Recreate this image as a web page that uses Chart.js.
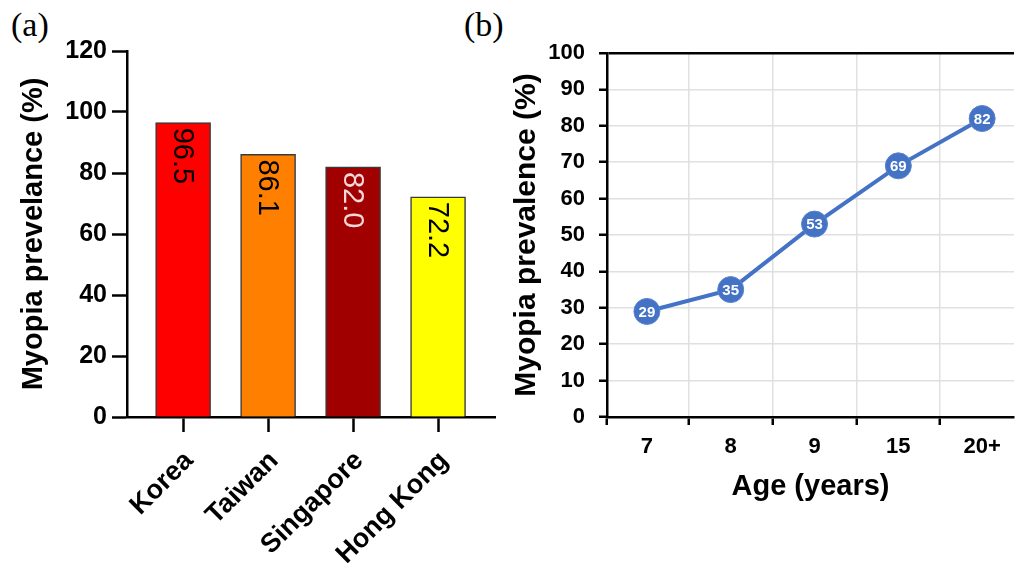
<!DOCTYPE html>
<html>
<head>
<meta charset="utf-8">
<script src="https://cdn.jsdelivr.net/npm/chart.js@4.4.1/dist/chart.umd.min.js"></script>
<style>
  body { margin: 0; background: #fff; overflow: hidden; width: 1028px; height: 563px; position: relative; }
  canvas { position: absolute; top: 0; }
  #barCanvas { left: 0; }
  #lineCanvas { left: 465px; }
  .panel { position: absolute; font-family: "Liberation Serif", serif; font-size: 34px; line-height: 1; }
</style>
</head>
<body>
<div class="panel" style="left:11px; top:8px;">(a)</div>
<div class="panel" style="left:464px; top:8px;">(b)</div>
<canvas id="barCanvas" width="500" height="563"></canvas>
<canvas id="lineCanvas" width="563" height="563"></canvas>
<script>
// panel (a)
const countries = ['Korea', 'Taiwan', 'Singapore', 'Hong Kong'];
const countryPrevalence = [96.5, 86.1, 82.0, 72.2];
const barColors = ['#ff0000', '#ff8000', '#a00000', '#ffff00'];
const barTextColors = ['#000', '#000', '#f6d8d8', '#000'];

// panel (b)
const ageGroups = ['7', '8', '9', '15', '20+'];
const agePrevalence = [29, 35, 53, 69, 82];

const FONT = '"Liberation Sans", Arial, sans-serif';
const BLUE = '#4472c4';

// rotated value labels inside the bars
const barValueLabels = {
  id: 'barValueLabels',
  afterDatasetsDraw(chart) {
    const ctx = chart.ctx;
    const meta = chart.getDatasetMeta(0);
    meta.data.forEach((bar, i) => {
      ctx.save();
      ctx.translate(bar.x, bar.y + 5);
      ctx.rotate(Math.PI / 2);
      ctx.font = '29px ' + FONT;
      ctx.fillStyle = barTextColors[i];
      ctx.textAlign = 'left';
      ctx.textBaseline = 'middle';
      ctx.fillText(countryPrevalence[i].toFixed(1), 0, 1);
      ctx.restore();
    });
  }
};

// numbers inside the line points
const pointValueLabels = {
  id: 'pointValueLabels',
  afterDatasetsDraw(chart) {
    const ctx = chart.ctx;
    const meta = chart.getDatasetMeta(0);
    meta.data.forEach((pt, i) => {
      ctx.save();
      ctx.font = 'bold 15px ' + FONT;
      ctx.fillStyle = '#fff';
      ctx.textAlign = 'center';
      ctx.textBaseline = 'middle';
      ctx.fillText(String(agePrevalence[i]), pt.x, pt.y + 1);
      ctx.restore();
    });
  }
};

new Chart('barCanvas', {
  type: 'bar',
  data: {
    datasets: [{
      data: countryPrevalence.map((v, i) => ({ x: i, y: v })),
      backgroundColor: barColors,
      borderColor: '#3a3a3a',
      borderWidth: 1.5,
      barThickness: 55,
    }],
  },
  options: {
    responsive: false,
    animation: false,
    layout: { padding: { top: 51, right: 5, left: 0, bottom: 0 } },
    plugins: { legend: { display: false }, tooltip: { enabled: false } },
    scales: {
      x: {
        type: 'linear',
        min: -0.66,
        max: 3.67,
        offset: false,
        afterBuildTicks: (scale) => { scale.ticks = countries.map((c, i) => ({ value: i })); },
        afterFit: (scale) => { scale.height = 146; },
        grid: { display: true, drawOnChartArea: false, offset: false, tickLength: 15, tickWidth: 2.5, tickColor: '#000' },
        border: { color: '#000', width: 2.5 },
        ticks: {
          autoSkip: false,
          minRotation: 45,
          maxRotation: 45,
          padding: 13,
          labelOffset: 6,
          color: '#000',
          font: { family: FONT, size: 27, weight: 'bold' },
          callback: (value) => countries[value],
        },
      },
      y: {
        min: 0,
        max: 120,
        afterFit: (scale) => { scale.width = 127; },
        grid: { drawOnChartArea: false, tickLength: 15, tickWidth: 2.5, tickColor: '#000' },
        border: { color: '#000', width: 2.5 },
        ticks: {
          stepSize: 20,
          padding: 5,
          color: '#000',
          font: { family: FONT, size: 25, weight: 'bold' },
        },
        title: {
          display: true,
          text: 'Myopia prevelance (%)',
          color: '#000',
          font: { family: FONT, size: 29, weight: 'bold' },
          padding: { top: 17, bottom: 0 },
        },
      },
    },
  },
  plugins: [barValueLabels],
});

new Chart('lineCanvas', {
  type: 'line',
  data: {
    datasets: [{
      data: agePrevalence.map((v, i) => ({ x: i, y: v })),
      borderColor: BLUE,
      borderWidth: 4,
      pointRadius: 13,
      pointBackgroundColor: BLUE,
      pointBorderColor: '#5a84cf',
      pointBorderWidth: 1,
      clip: false,
    }],
  },
  options: {
    responsive: false,
    animation: false,
    layout: { padding: { top: 53, right: 0, left: 0, bottom: 0 } },
    plugins: { legend: { display: false }, tooltip: { enabled: false } },
    scales: {
      x: {
        type: 'linear',
        min: -0.476,
        max: 4.38,
        afterBuildTicks: (scale) => {
          const t = [{ value: scale.min }];
          ageGroups.forEach((a, i) => {
            t.push({ value: i });
            if (i < ageGroups.length - 1) t.push({ value: i + 0.5 });
          });
          scale.ticks = t;
        },
        afterFit: (scale) => { scale.height = 146; },
        grid: {
          color: (c) => (c.tick && c.tick.value % 1 === 0.5 ? '#e0e0e0' : 'rgba(0,0,0,0)'),
          lineWidth: 1.5,
          tickColor: (c) => (c.tick && Number.isInteger(c.tick.value) ? 'rgba(0,0,0,0)' : '#000'),
          tickLength: 8,
          tickWidth: 2.5,
        },
        border: { color: '#000', width: 2.5 },
        ticks: {
          autoSkip: false,
          maxRotation: 0,
          padding: 9,
          color: '#000',
          font: { family: FONT, size: 22, weight: 'bold' },
          callback: (value) => (Number.isInteger(value) && value >= 0 ? ageGroups[value] : ''),
        },
        title: {
          display: true,
          text: 'Age (years)',
          color: '#000',
          font: { family: FONT, size: 29, weight: 'bold' },
          padding: { top: 0, bottom: 59 },
        },
      },
      y: {
        min: 0,
        max: 100,
        afterFit: (scale) => { scale.width = 142; },
        grid: {
          color: (c) => (c.tick && c.tick.value === 100 ? '#000' : '#e0e0e0'),
          lineWidth: (c) => (c.tick && c.tick.value === 100 ? 2.5 : 1.5),
          tickColor: '#000',
          tickLength: 8,
          tickWidth: 2.5,
        },
        border: { color: '#000', width: 2.5 },
        ticks: {
          stepSize: 10,
          padding: 14,
          color: '#000',
          font: { family: FONT, size: 22, weight: 'bold' },
        },
        title: {
          display: true,
          text: 'Myopia prevalence (%)',
          color: '#000',
          font: { family: FONT, size: 30, weight: 'bold' },
          padding: { top: 44, bottom: 0 },
        },
      },
    },
  },
  plugins: [pointValueLabels],
});
</script>
</body>
</html>
